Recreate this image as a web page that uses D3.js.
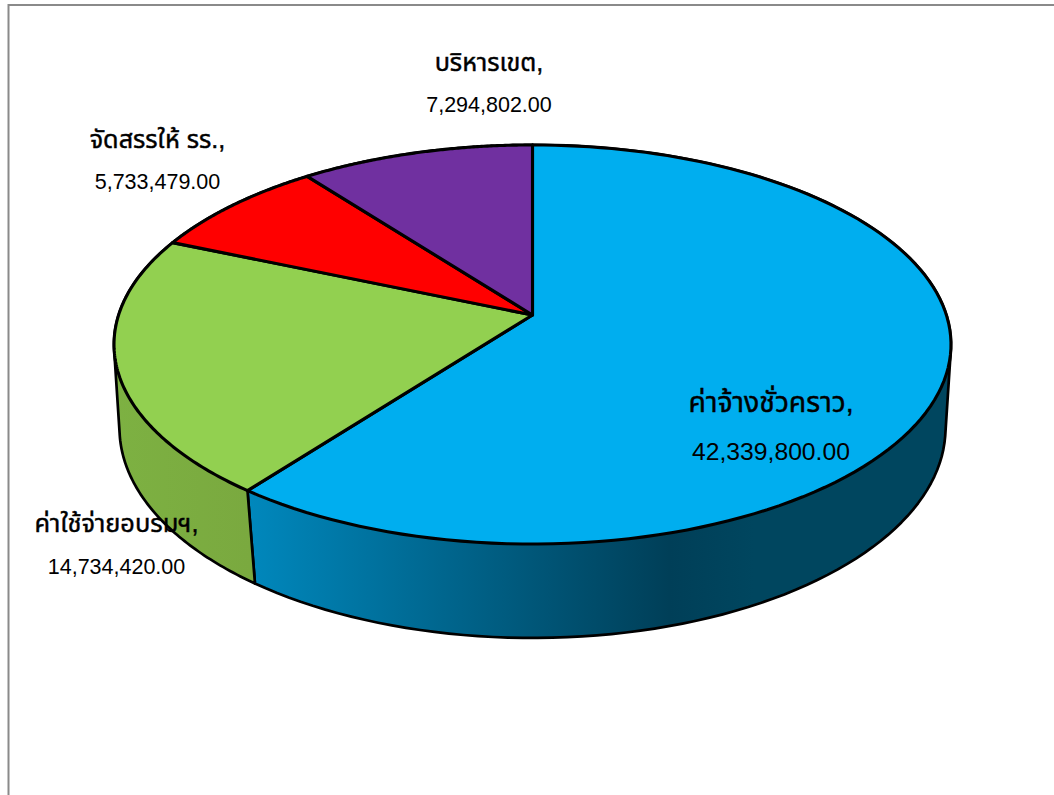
<!DOCTYPE html>
<html>
<head>
<meta charset="utf-8">
<script src="https://cdn.jsdelivr.net/npm/d3@7/dist/d3.min.js"></script>
<style>
html,body{margin:0;padding:0;background:#fff;overflow:hidden}
svg{display:block}
text{font-family:"Liberation Sans",Arial,"Noto Sans Thai","Noto Sans",sans-serif;fill:#000}
</style>
</head>
<body>
<svg id="chart" width="1054" height="795"></svg>
<script>
// Budget breakdown, drawn as a tilted 3D pie.
const categories = ["ค่าจ้างชั่วคราว", "ค่าใช้จ่ายอบรมฯ", "จัดสรรให้ รร.", "บริหารเขต"];
const amounts = [42339800, 14734420, 5733479, 7294802];
const topColors = ["#00aeef", "#92d050", "#ff0000", "#7030a0"];
const nameSizes = [28.4, 25.4, 25.2, 25.2];
const valueSizes = [24.7, 21.5, 21.5, 21.5];
const labelAnchors = [[771, 412, 460], [116.5, 532, 574], [157.5, 148, 189], [489, 71, 112]];

const svg = d3.select("#chart");
const W = 1054, H = 795;

// Chart frame: only the top and left edges fall inside the page.
svg.append("path").attr("d", `M8.5,${H}V5H${W}`).attr("fill", "none")
  .attr("stroke", "#8a8a8a").attr("stroke-width", 2);

// Perspective disc: a unit circle seen from above, nearer edge larger.
function disc(cx, cy, kx, ky, a) {
  return t => {
    const u = Math.sin(t), v = -Math.cos(t), d = 1 - a * v;
    return [cx + kx * u / d, cy + ky * v / d];
  };
}
const topFace = disc(532.5, 315, 413.9, 195.2, 0.1478);
const baseFace = disc(532.5, 400.7, 409.5, 206.4, 0.13);

const slices = d3.pie().sort(null).value(d => d)(amounts);
const steps = (a, b) => d3.range(0, 121).map(i => a + (b - a) * i / 120);
const line = d3.line().curve(d3.curveLinear);

const defs = svg.append("defs");
const blueSide = defs.append("linearGradient").attr("id", "sideBlue")
  .attr("gradientUnits", "userSpaceOnUse").attr("x1", 247).attr("x2", 951).attr("y1", 0).attr("y2", 0);
blueSide.append("stop").attr("offset", 0).attr("stop-color", "#0088bd");
blueSide.append("stop").attr("offset", 0.6).attr("stop-color", "#003f58");
blueSide.append("stop").attr("offset", 0.72).attr("stop-color", "#00465f");
const greenSide = defs.append("linearGradient").attr("id", "sideGreen")
  .attr("gradientUnits", "userSpaceOnUse").attr("x1", 115).attr("x2", 250).attr("y1", 0).attr("y2", 0);
greenSide.append("stop").attr("offset", 0).attr("stop-color", "#7db142");
greenSide.append("stop").attr("offset", 1).attr("stop-color", "#7aa93f");
const sideFills = ["url(#sideBlue)", "url(#sideGreen)", "#990000", "#431c60"];

// Side walls go in first; the top faces then cover their inner parts.
slices.forEach((s, i) => {
  const ts = steps(s.startAngle, s.endAngle);
  const hull = d3.polygonHull(ts.map(topFace).concat(ts.map(baseFace)));
  svg.append("path").attr("d", line(hull) + "Z").attr("fill", sideFills[i])
    .attr("stroke", "#000").attr("stroke-width", 2.7).attr("stroke-linejoin", "round");
});

// Top faces.
const apex = [532.5, 315];
slices.forEach((s, i) => {
  const pts = [apex].concat(steps(s.startAngle, s.endAngle).map(topFace));
  svg.append("path").attr("d", line(pts) + "Z").attr("fill", topColors[i])
    .attr("stroke", "#000").attr("stroke-width", 3.1).attr("stroke-linejoin", "round");
});

// Labels: category name on one line, amount on the next.
const money = d3.format(",.2f");
categories.forEach((c, i) => {
  const [x, y1, y2] = labelAnchors[i];
  svg.append("text").attr("x", x).attr("y", y1).attr("text-anchor", "middle")
    .attr("font-size", nameSizes[i]).attr("stroke", "#000").attr("stroke-width", 0.45)
    .text(c + ",");
  svg.append("text").attr("x", x).attr("y", y2).attr("text-anchor", "middle")
    .attr("font-size", valueSizes[i]).text(money(amounts[i]));
});
</script>
</body>
</html>
